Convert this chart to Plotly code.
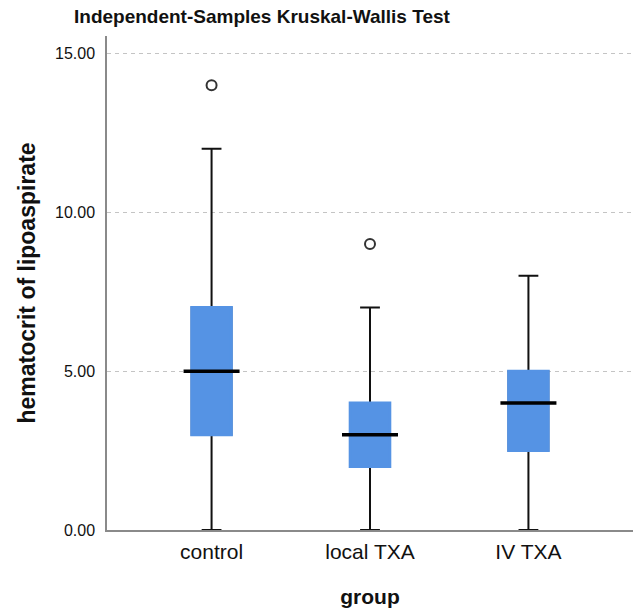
import plotly.graph_objects as go

# ---- data ----
groups = ["control", "local TXA", "IV TXA"]
q1 = [3.0, 2.0, 2.5]
median = [5.0, 3.0, 4.0]
q3 = [7.0, 4.0, 5.0]
lower_whisker = [0.0, 0.0, 0.0]
upper_whisker = [12.0, 7.0, 8.0]
outlier_groups = ["control", "local TXA"]
outlier_values = [14.0, 9.0]
y_ticks = [0, 5, 10, 15]
y_tick_labels = ["0.00", "5.00", "10.00", "15.00"]

FONT = "Liberation Sans, Arial, Helvetica, sans-serif"
BOX_BLUE = "#5593e4"
BOX_W = 0.25
W, H = 637, 615

fig = go.Figure()

# whiskers (black); the box body is covered by the blue box below
fig.add_trace(go.Box(
    x=groups, q1=q1, median=median, q3=q3,
    lowerfence=lower_whisker, upperfence=upper_whisker,
    width=BOX_W, whiskerwidth=0.5,
    line=dict(color="#111111", width=2),
    fillcolor=BOX_BLUE, boxpoints=False,
    hoverinfo="skip", showlegend=False,
))
# blue box body (interquartile range)
fig.add_trace(go.Box(
    x=groups, q1=q1, median=median, q3=q3,
    lowerfence=q1, upperfence=q3,
    width=BOX_W, whiskerwidth=0,
    line=dict(color=BOX_BLUE, width=3),
    fillcolor=BOX_BLUE, boxpoints=False,
    hoverinfo="skip", showlegend=False,
))
# thick black median lines
fig.add_trace(go.Scatter(
    x=groups, y=median, mode="markers",
    marker=dict(symbol="line-ew", size=40,
                line=dict(color="#000000", width=3.5)),
    hoverinfo="skip", showlegend=False,
))
# outliers
fig.add_trace(go.Scatter(
    x=outlier_groups, y=outlier_values, mode="markers",
    marker=dict(symbol="circle-open", size=10,
                line=dict(color="#333333", width=2), color="#333333"),
    hoverinfo="skip", showlegend=False,
))

fig.update_layout(
    width=W, height=H,
    margin=dict(l=107, r=4, t=36, b=85),
    paper_bgcolor="white", plot_bgcolor="white",
    boxmode="overlay",
    font=dict(family=FONT, color="#111111"),
    title=dict(
        text="Independent-Samples Kruskal-Wallis Test",
        font=dict(family=FONT, size=19, color="#111111", weight="bold"),
        x=74 / W, xanchor="left", xref="container",
        y=1 - 16.5 / H, yanchor="middle", yref="container",
    ),
    xaxis=dict(
        type="category", categoryarray=groups, categoryorder="array",
        range=[-0.66, 2.66],
        showline=True, linecolor="#8a8a8a", linewidth=2,
        showgrid=False, zeroline=False, ticks="",
        tickfont=dict(family=FONT, size=21, color="#111111"),
        ticklabelstandoff=2,
        title=dict(text="group", standoff=27,
                   font=dict(family=FONT, size=21, color="#111111", weight="bold")),
    ),
    yaxis=dict(
        range=[0, 15.55],
        tickvals=y_ticks, ticktext=y_tick_labels,
        showline=True, linecolor="#8a8a8a", linewidth=1.5,
        showgrid=True, gridcolor="#c4c4c4", gridwidth=1, griddash="4px,4px",
        zeroline=False, ticks="",
        tickfont=dict(family=FONT, size=16, color="#111111"),
        ticklabelstandoff=7,
        title=dict(text="hematocrit of lipoaspirate", standoff=13,
                   font=dict(family=FONT, size=23, color="#111111", weight="bold")),
    ),
)

# remove the browser's default 8px body margin so the figure fills the window
fig.write_html("out.html", config={"displayModeBar": False},
               post_script="document.body.style.margin='0';")
